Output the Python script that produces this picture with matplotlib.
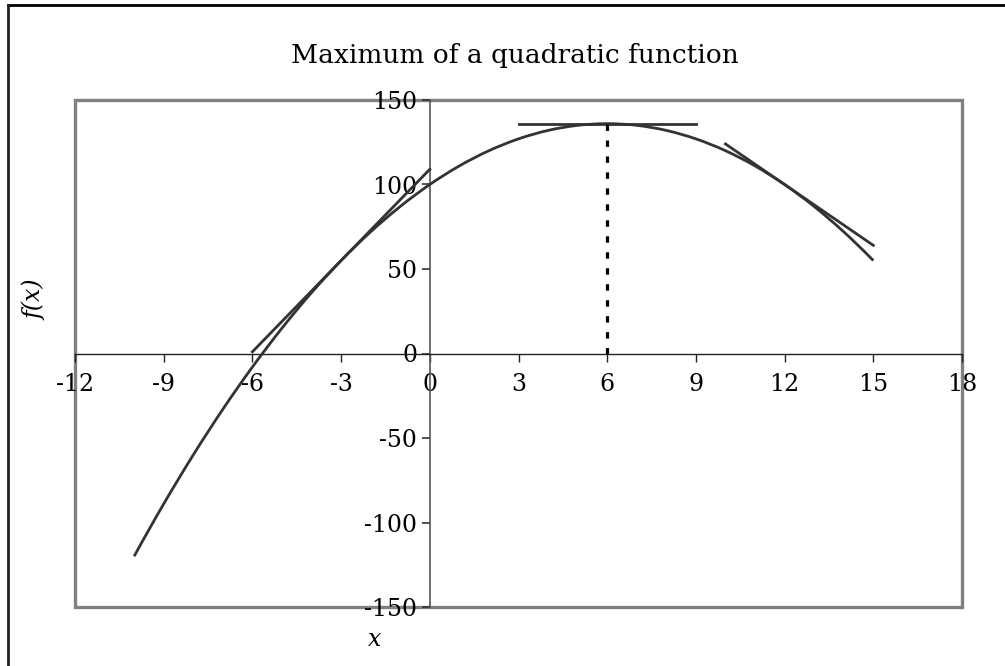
import matplotlib
matplotlib.use("Agg")
import matplotlib.pyplot as plt
import matplotlib.patches as patches
from matplotlib.lines import Line2D
from matplotlib.path import Path

plt.rcParams['font.family'] = ['DejaVu Serif']
plt.rcParams['axes.unicode_minus'] = False

# f(x) sampled at integer x
x_vals = [-10, -9, -8, -7, -6, -5, -4, -3, -2, -1, 0, 1, 2,
          3, 4, 5, 6, 7, 8, 9, 10, 11, 12, 13, 14, 15]
f_vals = [-120, -89, -60, -33, -8, 15, 36, 55, 72, 87, 100, 111, 120,
          127, 132, 135, 136, 135, 132, 127, 120, 111, 100, 87, 72, 55]

# tangent segments (x pair, y pair)
tan_left_x = [-6, 0]
tan_left_y = [1, 109]
tan_top_x = [3, 9]
tan_top_y = [136, 136]
tan_right_x = [10, 15]
tan_right_y = [124, 64]

# maximum point
max_x = 6
max_y = 136

x_ticks = [-12, -9, -6, -3, 0, 3, 6, 9, 12, 15, 18]
y_ticks = [-150, -100, -50, 0, 50, 100, 150]


def smooth_path(xs, ys):
    """Smoothed line through the points, built from cubic Bezier pieces."""
    n = len(xs)

    def slope(v, i):
        # derivative per step: central inside, one-sided at the ends
        if i == 0:
            return (-3 * v[0] + 4 * v[1] - v[2]) / 2
        if i == n - 1:
            return (3 * v[n - 1] - 4 * v[n - 2] + v[n - 3]) / 2
        return (v[i + 1] - v[i - 1]) / 2

    verts = [(xs[0], ys[0])]
    codes = [Path.MOVETO]
    for i in range(n - 1):
        c1 = (xs[i] + slope(xs, i) / 3, ys[i] + slope(ys, i) / 3)
        c2 = (xs[i + 1] - slope(xs, i + 1) / 3, ys[i + 1] - slope(ys, i + 1) / 3)
        verts += [c1, c2, (xs[i + 1], ys[i + 1])]
        codes += [Path.CURVE4] * 3
    return Path(verts, codes)


fig = plt.figure(figsize=(10.05, 6.66), dpi=100)
ax = fig.add_axes([75 / 1005, 59 / 666, 887 / 1005, 507 / 666])

line_col = '#333333'
ax.add_patch(patches.PathPatch(smooth_path(x_vals, f_vals), fill=False,
                               edgecolor=line_col, lw=2.0, zorder=3))
ax.plot(tan_left_x, tan_left_y, color=line_col, lw=2.0, zorder=3)
ax.plot(tan_top_x, tan_top_y, color=line_col, lw=2.0, zorder=3)
ax.plot(tan_right_x, tan_right_y, color=line_col, lw=2.0, zorder=3)
ax.plot([max_x, max_x], [0, max_y], color='black', lw=2.3,
        linestyle=(0, (2.0, 3.0)), zorder=3)

ax.set_xlim(-12, 18)
ax.set_ylim(-150, 150)
ax.set_xticks(x_ticks)
ax.set_yticks(y_ticks)

# axes cross at the origin
for side in ['top', 'right']:
    ax.spines[side].set_visible(False)
ax.spines['left'].set_position(('data', 0))
ax.spines['bottom'].set_position(('data', 0))
ax.spines['left'].set_color('#555555')
ax.spines['bottom'].set_color('#222222')
ax.spines['left'].set_linewidth(1.2)
ax.spines['bottom'].set_linewidth(1.0)

ax.tick_params(axis='x', direction='out', length=6, width=1.0,
               color='#222222', labelsize=17, pad=8)
ax.tick_params(axis='y', direction='out', length=6, width=1.2,
               color='#333333', labelsize=17, pad=3)

# grey plot-area frame
frame = patches.Rectangle((0, 0), 1, 1, transform=ax.transAxes, fill=False,
                          edgecolor='#808080', lw=2.4, clip_on=False, zorder=1)
ax.add_patch(frame)

# outer chart border
fig.add_artist(Line2D([8 / 1005, 1.0], [1 - 5 / 666, 1 - 5 / 666],
                      transform=fig.transFigure, color='black', lw=2.0))
fig.add_artist(Line2D([8 / 1005, 8 / 1005], [0, 1 - 5 / 666],
                      transform=fig.transFigure, color='#222222', lw=2.0))

fig.text(515 / 1005, 1 - 55 / 666, 'Maximum of a quadratic function',
         ha='center', va='center', fontsize=19)
fig.text(375 / 1005, 1 - 640 / 666, 'x', ha='center', va='center',
         fontsize=17, style='italic')
fig.text(35 / 1005, 1 - 300 / 666, 'f(x)', ha='center', va='center',
         fontsize=17, style='italic', rotation=90)

fig.savefig('out.png', dpi=100)
